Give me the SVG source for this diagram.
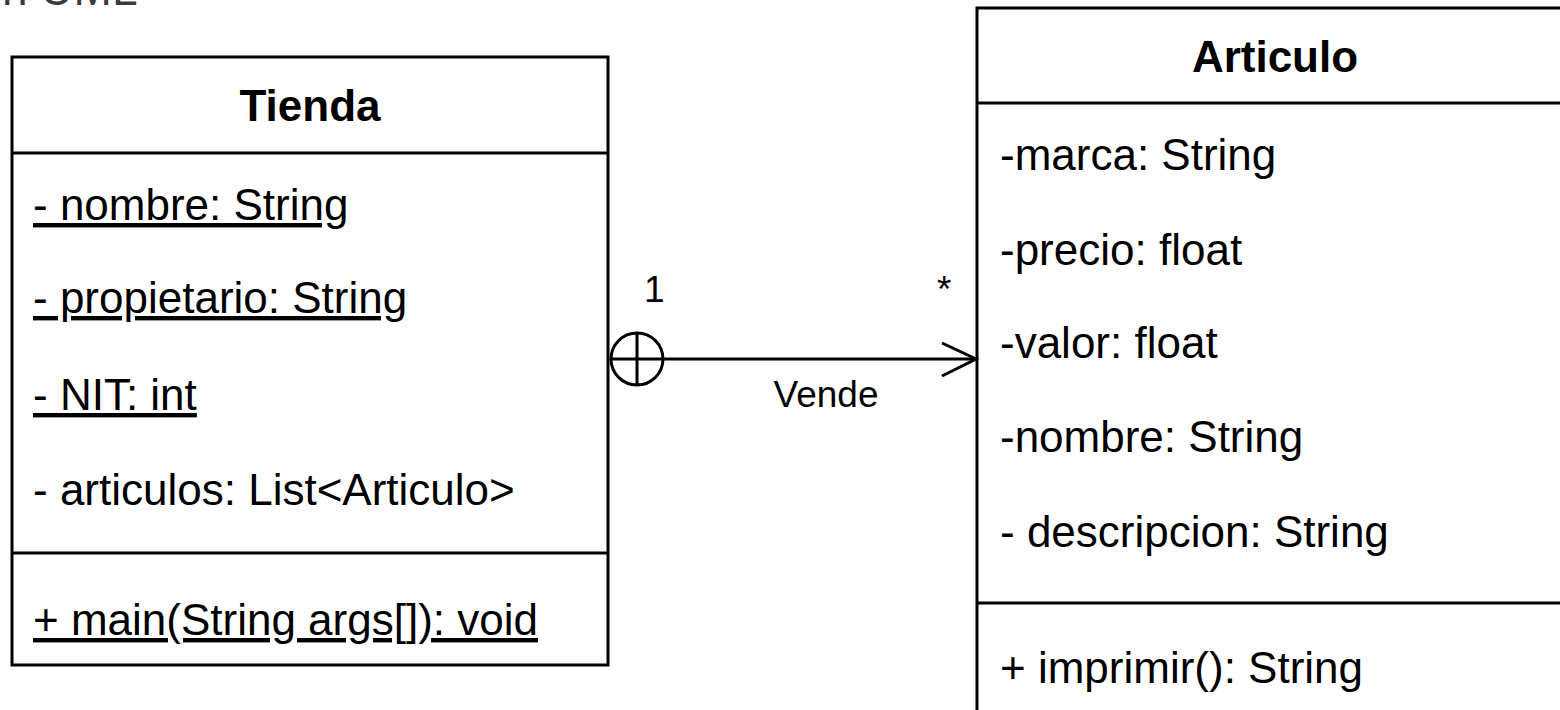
<svg xmlns="http://www.w3.org/2000/svg" width="1560" height="710" viewBox="0 0 1560 710">
  <style>
    .box { fill: #ffffff; stroke: #000000; stroke-width: 3; }
    .div { stroke: #000000; stroke-width: 3; }
    .t { font-family: "Liberation Sans", Arial, sans-serif; font-size: 44px; fill: #000000; }
    .title { font-weight: bold; text-anchor: middle; }
    .u { text-decoration: underline; }
    .lbl { font-family: "Liberation Sans", Arial, sans-serif; font-size: 37px; fill: #000000; }
    .edge { fill: none; stroke: #000000; stroke-width: 3; }
  </style>
  <rect width="1560" height="710" fill="#ffffff"/>
  <text x="2" y="5" font-family="Liberation Sans, Arial, sans-serif" font-size="46" fill="#3a3a3a">n UML</text>

  <g id="node-tienda">
    <rect class="box" x="12" y="57" width="596" height="608"/>
    <line class="div" x1="12" y1="153" x2="608" y2="153"/>
    <line class="div" x1="12" y1="553" x2="608" y2="553"/>
    <text class="t title" x="310" y="121">Tienda</text>
    <text class="t u" x="33" y="220">- nombre: String</text>
    <text class="t u" x="33" y="313">- propietario: String</text>
    <text class="t u" x="33" y="410">- NIT: int</text>
    <text class="t" x="33" y="505">- articulos: List&lt;Articulo&gt;</text>
    <text class="t u" x="33" y="635">+ main(String args[]): void</text>
  </g>

  <g id="node-articulo">
    <rect class="box" x="977" y="8" width="596" height="720"/>
    <line class="div" x1="977" y1="103" x2="1573" y2="103"/>
    <line class="div" x1="977" y1="603" x2="1573" y2="603"/>
    <text class="t title" x="1275" y="72">Articulo</text>
    <text class="t" x="1000" y="170">-marca: String</text>
    <text class="t" x="1000" y="265">-precio: float</text>
    <text class="t" x="1000" y="358">-valor: float</text>
    <text class="t" x="1000" y="452">-nombre: String</text>
    <text class="t" x="1000" y="547">- descripcion: String</text>
    <text class="t" x="1000" y="683">+ imprimir(): String</text>
  </g>

  <g id="connectors">
    <g id="edge-vende">
      <line class="edge" x1="610" y1="359" x2="976" y2="359"/>
      <circle class="edge" cx="637" cy="359" r="26"/>
      <line class="edge" x1="637" y1="333" x2="637" y2="385"/>
      <polyline class="edge" points="942,343 976,359 942,376"/>
      <text class="lbl" x="644" y="302">1</text>
      <text class="lbl" x="937" y="302">*</text>
      <text class="lbl" x="826" y="407" text-anchor="middle">Vende</text>
    </g>
  </g>
</svg>
